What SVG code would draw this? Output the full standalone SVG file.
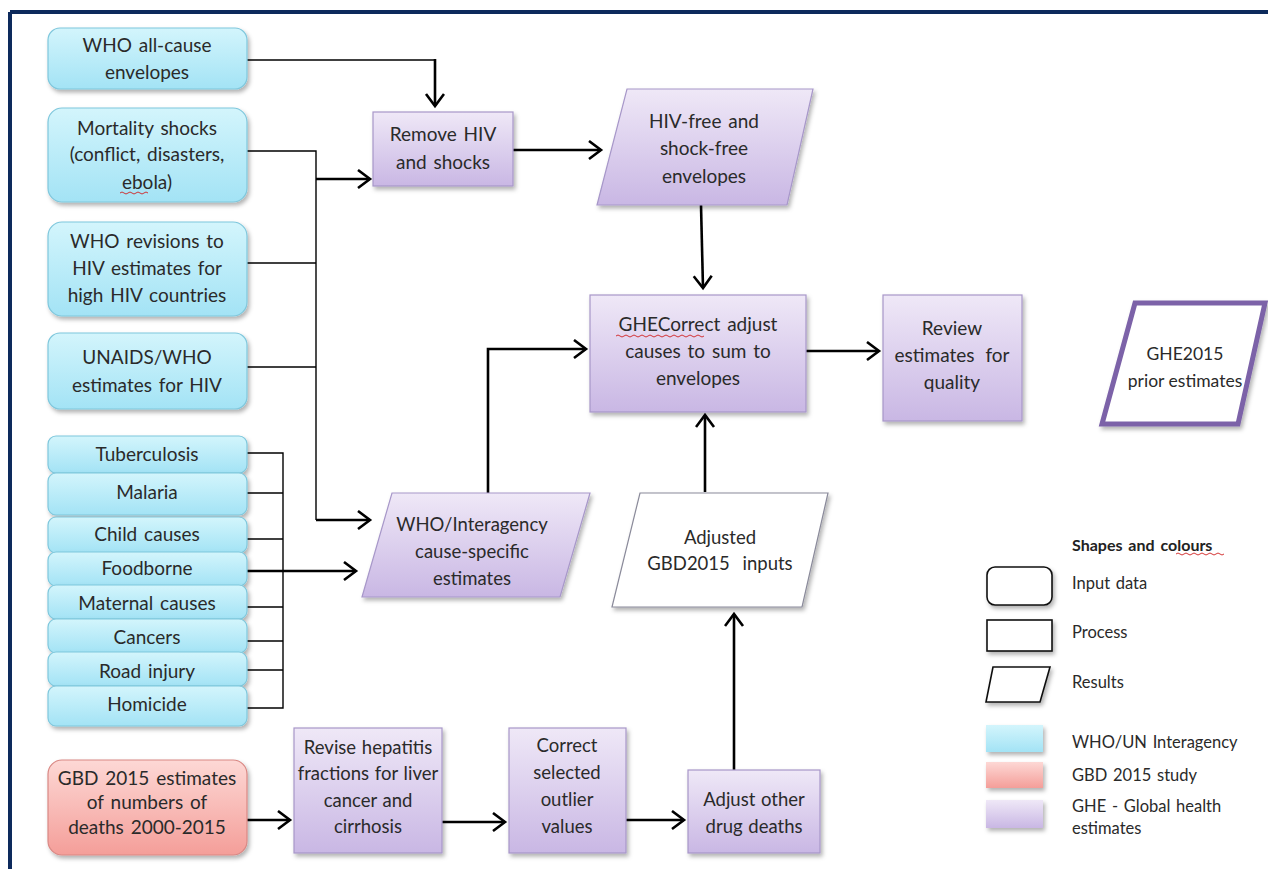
<svg xmlns="http://www.w3.org/2000/svg" width="1268" height="869" viewBox="0 0 1268 869">
<defs>
<linearGradient id="gCyan" x1="0" y1="0" x2="0" y2="1"><stop offset="0" stop-color="#d3f5fc"/><stop offset="1" stop-color="#a3e3f5"/></linearGradient>
<linearGradient id="gPurple" x1="0" y1="0" x2="0" y2="1"><stop offset="0" stop-color="#efe8f7"/><stop offset="1" stop-color="#c9b7e4"/></linearGradient>
<linearGradient id="gRed" x1="0" y1="0" x2="0" y2="1"><stop offset="0" stop-color="#fdd8d5"/><stop offset="1" stop-color="#f49e99"/></linearGradient>
<filter id="sh" x="-10%" y="-10%" width="130%" height="140%"><feDropShadow dx="2" dy="3" stdDeviation="2" flood-color="#000" flood-opacity="0.3"/></filter>
<marker id="arr" markerUnits="userSpaceOnUse" markerWidth="20" markerHeight="24" refX="13" refY="10" orient="auto" viewBox="0 0 20 24"><path d="M1,1 L13,10 L1,19" fill="none" stroke="#000" stroke-width="2.6" stroke-linejoin="miter"/></marker>
<style>
.t{font-family:Lato,"Open Sans","Liberation Sans",sans-serif;font-size:19px;word-spacing:2px;fill:#2a2a2a;text-anchor:middle;dominant-baseline:central}
.ts{font-size:18.5px;word-spacing:1px}
.tx{font-size:17.5px;word-spacing:0}
.tw{word-spacing:6px}
.tl{font-family:Lato,"Open Sans","Liberation Sans",sans-serif;font-size:16.5px;word-spacing:1.5px;fill:#2a2a2a;dominant-baseline:central}
.tb{font-family:Lato,"Open Sans","Liberation Sans",sans-serif;font-size:16px;word-spacing:2px;font-weight:bold;fill:#222;dominant-baseline:central}
.cy{fill:url(#gCyan);stroke:#7fc7dc;stroke-width:1.2;filter:url(#sh)}
.pu{fill:url(#gPurple);stroke:#a797c9;stroke-width:1.2;filter:url(#sh)}
.rd{fill:url(#gRed);stroke:#d98884;stroke-width:1.2;filter:url(#sh)}
.wh{fill:#fff;stroke:#8a8a9a;stroke-width:1.2;filter:url(#sh)}
.lg{fill:#fff;stroke:#111;stroke-width:1.6;filter:url(#sh)}
.thin{fill:none;stroke:#000;stroke-width:1.4}
.thick{fill:none;stroke:#000;stroke-width:2.6}
.wavy{fill:none;stroke:#d02020;stroke-width:0.9}
</style>
</defs>
<rect x="0" y="0" width="1268" height="869" fill="#fff"/>
<g id="frame">
<line x1="10" y1="12" x2="1268" y2="12" stroke="#0d2a5c" stroke-width="4"/>
<line x1="10" y1="12" x2="10" y2="869" stroke="#0d2a5c" stroke-width="4"/>
</g>

<g id="connectors">
<polyline class="thin" points="247,60 435,60"/>
<polyline class="thick" points="435,59 435,106" marker-end="url(#arr)"/>
<polyline class="thin" points="247,151 316,151 316,520"/>
<polyline class="thin" points="247,263 316,263"/>
<polyline class="thin" points="247,367 316,367"/>
<polyline class="thick" points="316,179 370,179" marker-end="url(#arr)"/>
<polyline class="thick" points="316,520 370,520" marker-end="url(#arr)"/>
<polyline class="thin" points="247,453 283,453 283,708 247,708"/>
<polyline class="thin" points="247,493 283,493"/>
<polyline class="thin" points="247,539 283,539"/>
<polyline class="thin" points="247,607 283,607"/>
<polyline class="thin" points="247,641 283,641"/>
<polyline class="thin" points="247,670 283,670"/>
<polyline class="thick" points="247,571 356,571" marker-end="url(#arr)"/>
<polyline class="thick" points="513,150 601,150" marker-end="url(#arr)"/>
<polyline class="thick" points="701,205 703,288" marker-end="url(#arr)"/>
<polyline class="thick" points="488,493 488,349 586,349" marker-end="url(#arr)"/>
<polyline class="thick" points="806,351 879,351" marker-end="url(#arr)"/>
<polyline class="thick" points="705,492 705,415" marker-end="url(#arr)"/>
<polyline class="thick" points="734,770 734,614" marker-end="url(#arr)"/>
<polyline class="thick" points="247,820 290,820" marker-end="url(#arr)"/>
<polyline class="thick" points="442,822 505,822" marker-end="url(#arr)"/>
<polyline class="thick" points="626,820 684,820" marker-end="url(#arr)"/>
</g>

<g id="n-who-envelopes"><rect class="cy" x="48" y="28" width="199" height="61" rx="12"/><text class="t" x="147" y="44">WHO all-cause</text><text class="t" x="147" y="71">envelopes</text></g>
<g id="n-shocks"><rect class="cy" x="48" y="108" width="199" height="94" rx="14"/><text class="t" x="147" y="127">Mortality shocks</text><text class="t" x="147" y="153">(conflict, disasters,</text><text class="t" x="147" y="181">ebola)</text><path class="wavy" d="M120,193 q2,-2 4,0 t4,0 t4,0 t4,0 t4,0 t4,0 t4,0"/></g>
<g id="n-who-revisions"><rect class="cy" x="48" y="222" width="199" height="94" rx="14"/><text class="t" x="147" y="240">WHO revisions to</text><text class="t" x="147" y="267">HIV estimates for</text><text class="t" x="147" y="294">high HIV countries</text></g>
<g id="n-unaids"><rect class="cy" x="48" y="333" width="199" height="76" rx="12"/><text class="t" x="147" y="356">UNAIDS/WHO</text><text class="t" x="147" y="384">estimates for HIV</text></g>

<g id="n-tb"><rect class="cy" x="48" y="436" width="199" height="37" rx="8"/><text class="t" x="147" y="453">Tuberculosis</text></g>
<g id="n-malaria"><rect class="cy" x="48" y="473" width="199" height="42" rx="8"/><text class="t" x="147" y="491">Malaria</text></g>
<g id="n-child"><rect class="cy" x="48" y="517" width="199" height="36" rx="8"/><text class="t" x="147" y="533">Child causes</text></g>
<g id="n-foodborne"><rect class="cy" x="48" y="552" width="199" height="34" rx="8"/><text class="t" x="147" y="567">Foodborne</text></g>
<g id="n-maternal"><rect class="cy" x="48" y="585" width="199" height="34" rx="8"/><text class="t" x="147" y="602">Maternal causes</text></g>
<g id="n-cancers"><rect class="cy" x="48" y="619" width="199" height="34" rx="8"/><text class="t" x="147" y="636">Cancers</text></g>
<g id="n-road"><rect class="cy" x="48" y="652" width="199" height="34" rx="8"/><text class="t" x="147" y="670">Road injury</text></g>
<g id="n-homicide"><rect class="cy" x="48" y="686" width="199" height="40" rx="8"/><text class="t" x="147" y="703">Homicide</text></g>

<g id="n-gbd"><rect class="rd" x="48" y="760" width="199" height="95" rx="14"/><text class="t" x="147" y="777">GBD 2015 estimates</text><text class="t" x="147" y="801">of numbers of</text><text class="t" x="147" y="826">deaths 2000-2015</text></g>

<g id="n-remove"><rect class="pu" x="373" y="112" width="140" height="74"/><text class="t" x="443" y="133">Remove HIV</text><text class="t" x="443" y="161">and shocks</text></g>
<g id="n-hivfree"><polygon class="pu" points="627,89 813,89 787,205 597,205"/><text class="t" x="704" y="120">HIV-free and</text><text class="t" x="704" y="147">shock-free</text><text class="t" x="704" y="175">envelopes</text></g>
<g id="n-ghecorrect"><rect class="pu" x="590" y="295" width="216" height="117"/><text class="t" x="698" y="323">GHECorrect adjust</text><text class="t" x="698" y="350">causes to sum to</text><text class="t" x="698" y="377">envelopes</text><path class="wavy" d="M616,336 q2,-2 4,0 t4,0 t4,0 t4,0 t4,0 t4,0 t4,0 t4,0 t4,0 t4,0 t4,0 t4,0 t4,0 t4,0 t4,0 t4,0 t4,0 t4,0 t4,0 t4,0 t4,0 t4,0"/></g>
<g id="n-review"><rect class="pu" x="883" y="295" width="139" height="126"/><text class="t" x="952" y="327">Review</text><text class="t tw" x="952" y="354">estimates for</text><text class="t" x="952" y="381">quality</text></g>
<g id="n-ghe2015"><polygon points="1135,303 1265,303 1238,424 1102,424" fill="#fff" stroke="#7b62a8" stroke-width="5" filter="url(#sh)"/><text class="t tx" x="1185" y="353">GHE2015</text><text class="t tx" x="1185" y="380">prior estimates</text></g>
<g id="n-whointer"><polygon class="pu" points="392,493 590,493 560,597 362,597"/><text class="t ts" x="472" y="524">WHO/Interagency</text><text class="t ts" x="472" y="551">cause-specific</text><text class="t ts" x="472" y="578">estimates</text></g>
<g id="n-adjusted"><polygon class="wh" points="640,493 828,493 802,607 612,607"/><text class="t ts" x="720" y="537">Adjusted</text><text class="t ts" x="720" y="563" style="word-spacing:8px">GBD2015 inputs</text></g>

<g id="n-revise"><rect class="pu" x="294" y="728" width="148" height="125"/><text class="t ts" x="368" y="747">Revise hepatitis</text><text class="t ts" x="368" y="773">fractions for liver</text><text class="t ts" x="368" y="800">cancer and</text><text class="t ts" x="368" y="826">cirrhosis</text></g>
<g id="n-correct"><rect class="pu" x="509" y="728" width="117" height="125"/><text class="t ts" x="567" y="745">Correct</text><text class="t ts" x="567" y="772">selected</text><text class="t ts" x="567" y="799">outlier</text><text class="t ts" x="567" y="826">values</text></g>
<g id="n-adjustdrug"><rect class="pu" x="688" y="770" width="132" height="83"/><text class="t ts" x="754" y="799">Adjust other</text><text class="t ts" x="754" y="826">drug deaths</text></g>

<g id="legend">
<text class="tb" x="1072" y="544">Shapes and colours</text>
<path class="wavy" d="M1176,554 q2,-2 4,0 t4,0 t4,0 t4,0 t4,0 t4,0 t4,0 t4,0 t4,0 t4,0 t4,0 t4,0"/>
<rect class="lg" x="987" y="567" width="65" height="38" rx="8"/><text class="tl" x="1072" y="583">Input data</text>
<rect class="lg" x="987" y="620" width="65" height="31"/><text class="tl" x="1072" y="632">Process</text>
<polygon class="lg" points="993,667 1050,667 1040,702 986,702"/><text class="tl" x="1072" y="682">Results</text>
<rect x="986" y="725" width="57" height="27" fill="url(#gCyan)" filter="url(#sh)"/><text class="tl" x="1072" y="742">WHO/UN Interagency</text>
<rect x="986" y="762" width="57" height="26" fill="url(#gRed)" filter="url(#sh)"/><text class="tl" x="1072" y="775">GBD 2015 study</text>
<rect x="986" y="800" width="57" height="28" fill="url(#gPurple)" filter="url(#sh)"/><text class="tl" x="1072" y="806">GHE - Global health</text><text class="tl" x="1072" y="828">estimates</text>
</g>
</svg>
